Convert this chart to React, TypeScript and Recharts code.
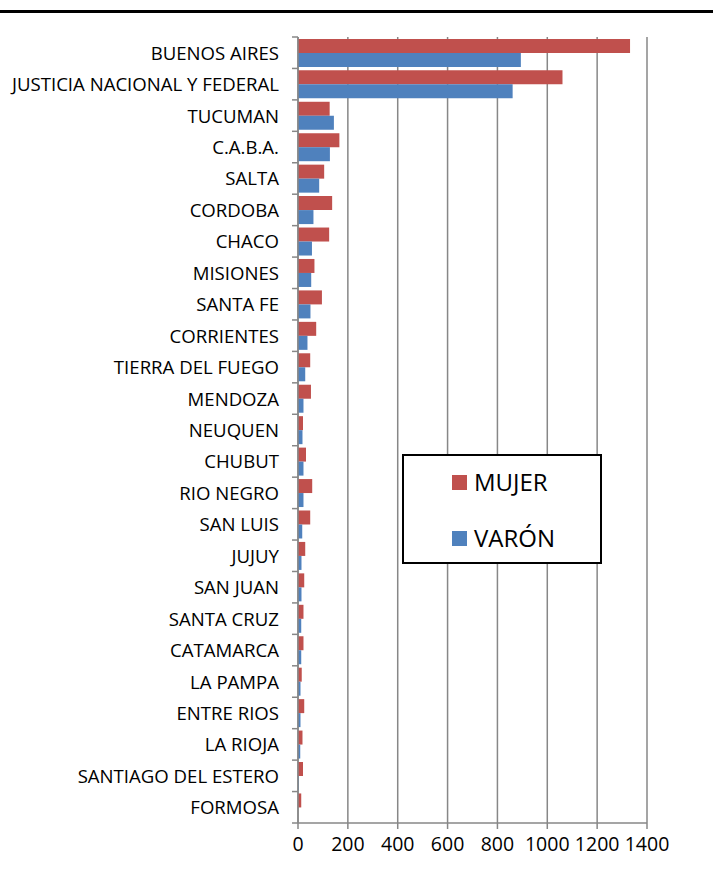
import { BarChart, Bar, XAxis, YAxis, CartesianGrid } from "recharts"

const provincias = [
  "BUENOS AIRES",
  "JUSTICIA NACIONAL Y FEDERAL",
  "TUCUMAN",
  "C.A.B.A.",
  "SALTA",
  "CORDOBA",
  "CHACO",
  "MISIONES",
  "SANTA FE",
  "CORRIENTES",
  "TIERRA DEL FUEGO",
  "MENDOZA",
  "NEUQUEN",
  "CHUBUT",
  "RIO NEGRO",
  "SAN LUIS",
  "JUJUY",
  "SAN JUAN",
  "SANTA CRUZ",
  "CATAMARCA",
  "LA PAMPA",
  "ENTRE RIOS",
  "LA RIOJA",
  "SANTIAGO DEL ESTERO",
  "FORMOSA",
]

const mujer = [1332, 1061, 127, 166, 105, 137, 125, 66, 96, 73, 49, 52, 20, 32, 57, 49, 29, 25, 22, 22, 15, 25, 18, 20, 13]
const varon = [894, 861, 144, 128, 85, 62, 56, 53, 50, 38, 29, 22, 18, 22, 22, 17, 14, 14, 13, 13, 10, 10, 9, 3, 0]

const xTicks = [0, 200, 400, 600, 800, 1000, 1200, 1400]

const data = provincias.map((name, i) => ({ name, mujer: mujer[i], varon: varon[i] }))

const FONT = "'Open Sans', sans-serif"
const GRIS = "#878787"
const ROJO = "#C0504D"
const AZUL = "#4F81BD"

const W = 713
const H = 869
const MARGIN = { top: 37, right: 66, bottom: 0, left: 0 }
const X_AXIS_H = 46
const BAND = (H - MARGIN.top - MARGIN.bottom - X_AXIS_H) / provincias.length

// etiqueta de provincia + marcas en los bordes de cada categoría (estilo Excel)
function ProvinciaTick(props: any) {
  const { x, y, payload, index } = props
  const last = index === provincias.length - 1
  return (
    <g>
      <line x1={x - 6} x2={x} y1={y - BAND / 2} y2={y - BAND / 2} stroke={GRIS} strokeWidth={1.5} />
      {last && <line x1={x - 6} x2={x} y1={y + BAND / 2} y2={y + BAND / 2} stroke={GRIS} strokeWidth={1.5} />}
      <text x={x - 19} y={y - 0.5} textAnchor="end" dominantBaseline="central" fill="#000" fontSize={18.6} fontFamily={FONT}>
        {payload.value}
      </text>
    </g>
  )
}

export default function App() {
  return (
    <div style={{ position: "absolute", left: 0, top: 0, width: W, height: H, background: "#fff" }}>
      <div style={{ position: "absolute", left: 0, top: 10, width: W, height: 2.5, background: "#000" }} />
      <BarChart
        width={W}
        height={H}
        data={data}
        layout="vertical"
        margin={MARGIN}
        barCategoryGap="6%"
        barGap={0}
      >
        <CartesianGrid horizontal={false} stroke={GRIS} strokeWidth={1.5} />
        <XAxis
          type="number"
          domain={[0, 1400]}
          ticks={xTicks}
          interval={0}
          height={X_AXIS_H}
          axisLine={{ stroke: GRIS, strokeWidth: 1.5 }}
          tickLine={{ stroke: GRIS, strokeWidth: 1.5 }}
          tickSize={6}
          tickMargin={8}
          tick={{ fill: "#000", fontSize: 19.5, fontFamily: FONT }}
        />
        <YAxis
          type="category"
          dataKey="name"
          width={298}
          interval={0}
          tickSize={0}
          tickMargin={0}
          tickLine={false}
          axisLine={{ stroke: GRIS, strokeWidth: 1.5 }}
          tick={<ProvinciaTick />}
        />
        <Bar dataKey="mujer" name="MUJER" fill={ROJO} isAnimationActive={false} />
        <Bar dataKey="varon" name="VARÓN" fill={AZUL} isAnimationActive={false} />
      </BarChart>
      <div
        style={{
          position: "absolute",
          left: 402,
          top: 454,
          width: 196,
          height: 106,
          border: "2px solid #000",
          background: "#fff",
          fontFamily: FONT,
          fontSize: 24,
        }}
      >
        {[
          { label: "MUJER", color: ROJO, top: 12 },
          { label: "VARÓN", color: AZUL, top: 68 },
        ].map((item) => (
          <div key={item.label} style={{ position: "absolute", left: 48, top: item.top, display: "flex", alignItems: "center", height: 28 }}>
            <span style={{ display: "inline-block", width: 15, height: 15, background: item.color, marginRight: 7 }} />
            <span style={{ lineHeight: "28px" }}>{item.label}</span>
          </div>
        ))}
      </div>
    </div>
  )
}
